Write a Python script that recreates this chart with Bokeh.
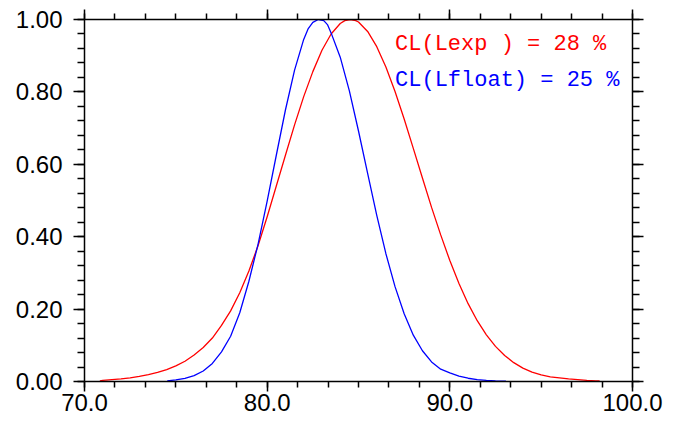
from bokeh.plotting import figure
from bokeh.models import (Range1d, LinearAxis, SingleIntervalTicker, NumeralTickFormatter, Label,
                          CustomJSTickFormatter)
from bokeh.embed import file_html
from bokeh.resources import INLINE

# ---- data ----
red_x = [70.84, 71.0, 71.5, 72.0, 72.5, 73.0, 73.5, 74.0, 74.5, 75.0, 75.5, 76.0, 76.5, 77.0, 77.5,
         78.0, 78.5, 79.0, 79.5, 80.0, 80.5, 81.0, 81.5, 82.0, 82.5, 83.0, 83.5, 84.0, 84.25, 84.55,
         84.85, 85.0, 85.5, 86.0, 86.5, 87.0, 87.5, 88.0, 88.5, 89.0, 89.5, 90.0, 90.5, 91.0, 91.5,
         92.0, 92.5, 93.0, 93.5, 94.0, 94.5, 95.0, 95.5, 96.0, 96.5, 97.0, 97.5, 98.0, 98.2]
red_y = [0.002, 0.003, 0.005, 0.007, 0.010, 0.014, 0.019, 0.025, 0.033, 0.043, 0.056, 0.073, 0.094,
         0.120, 0.155, 0.195, 0.245, 0.305, 0.375, 0.455, 0.540, 0.625, 0.709, 0.787, 0.856, 0.915,
         0.960, 0.989, 0.997, 1.000, 0.997, 0.993, 0.967, 0.925, 0.869, 0.801, 0.725, 0.644, 0.562,
         0.481, 0.405, 0.334, 0.271, 0.215, 0.168, 0.129, 0.097, 0.072, 0.052, 0.037, 0.026, 0.018,
         0.013, 0.010, 0.007, 0.005, 0.003, 0.002, 0.0015]

blue_x = [74.53, 75.0, 75.5, 76.0, 76.5, 77.0, 77.5, 78.0, 78.5, 79.0, 79.5, 80.0, 80.5, 81.0, 81.5,
          82.0, 82.25, 82.5, 82.8, 83.1, 83.3, 83.5, 84.0, 84.5, 85.0, 85.5, 86.0, 86.5, 87.0, 87.5,
          88.0, 88.5, 89.0, 89.5, 90.0, 90.5, 91.0, 91.5, 92.0, 92.5, 93.07]
blue_y = [0.002, 0.0044, 0.0087, 0.0163, 0.029, 0.050, 0.082, 0.125, 0.190, 0.277, 0.379, 0.498,
          0.625, 0.750, 0.860, 0.945, 0.975, 0.992, 1.000, 0.997, 0.986, 0.963, 0.896, 0.803, 0.692,
          0.575, 0.459, 0.353, 0.262, 0.187, 0.128, 0.085, 0.054, 0.034, 0.024, 0.015, 0.009, 0.005,
          0.003, 0.0015, 0.0007]

x_ticks_interval = 10
y_ticks_interval = 0.2
label_red = "CL(Lexp ) = 28 %"
label_blue = "CL(Lfloat) = 25 %"

p = figure(width=682, height=423, output_backend="svg", toolbar_location=None,
           x_range=Range1d(70, 100), y_range=Range1d(0, 1),
           x_axis_location=None, y_axis_location=None,
           min_border_left=84, min_border_right=50, min_border_top=19, min_border_bottom=42)
p.outline_line_color = None
p.xgrid.visible = False
p.ygrid.visible = False
p.background_fill_color = "white"
p.border_fill_color = "white"

blank = CustomJSTickFormatter(code="return '';")

def style_axis(ax, tick_out, minor_out, show_labels, standoff):
    ax.axis_line_width = 1.5
    ax.major_tick_line_width = 1.5
    ax.minor_tick_line_width = 1.5
    ax.major_tick_in = 0
    ax.major_tick_out = tick_out
    ax.minor_tick_in = 0
    ax.minor_tick_out = minor_out
    ax.major_label_text_font = "Liberation Sans"
    ax.major_label_text_color = "black"
    ax.major_label_text_font_size = "24px"
    ax.major_label_standoff = standoff if show_labels else 0
    return ax

def make_x_axis(show_labels):
    ax = LinearAxis(ticker=SingleIntervalTicker(interval=x_ticks_interval, num_minor_ticks=6),
                    formatter=NumeralTickFormatter(format="0.0") if show_labels else blank)
    return style_axis(ax, 10, 6, show_labels, 2)

def make_y_axis(show_labels):
    ax = LinearAxis(ticker=SingleIntervalTicker(interval=y_ticks_interval, num_minor_ticks=5),
                    formatter=NumeralTickFormatter(format="0.00") if show_labels else blank)
    return style_axis(ax, 11, 7, show_labels, 11)

p.add_layout(make_x_axis(True), "below")
p.add_layout(make_x_axis(False), "above")
p.add_layout(make_y_axis(True), "left")
p.add_layout(make_y_axis(False), "right")

p.line(red_x, red_y, line_color="#ff0000", line_width=1.3)
p.line(blue_x, blue_y, line_color="#0000ff", line_width=1.3)

p.add_layout(Label(x=87.0, y=0.932, text=label_red, text_color="#ff0000",
                   text_font="Liberation Mono", text_font_size="22px", text_baseline="alphabetic"))
p.add_layout(Label(x=87.0, y=0.832, text=label_blue, text_color="#0000ff",
                   text_font="Liberation Mono", text_font_size="22px", text_baseline="alphabetic"))

open("out.html", "w").write(file_html(p, INLINE))
